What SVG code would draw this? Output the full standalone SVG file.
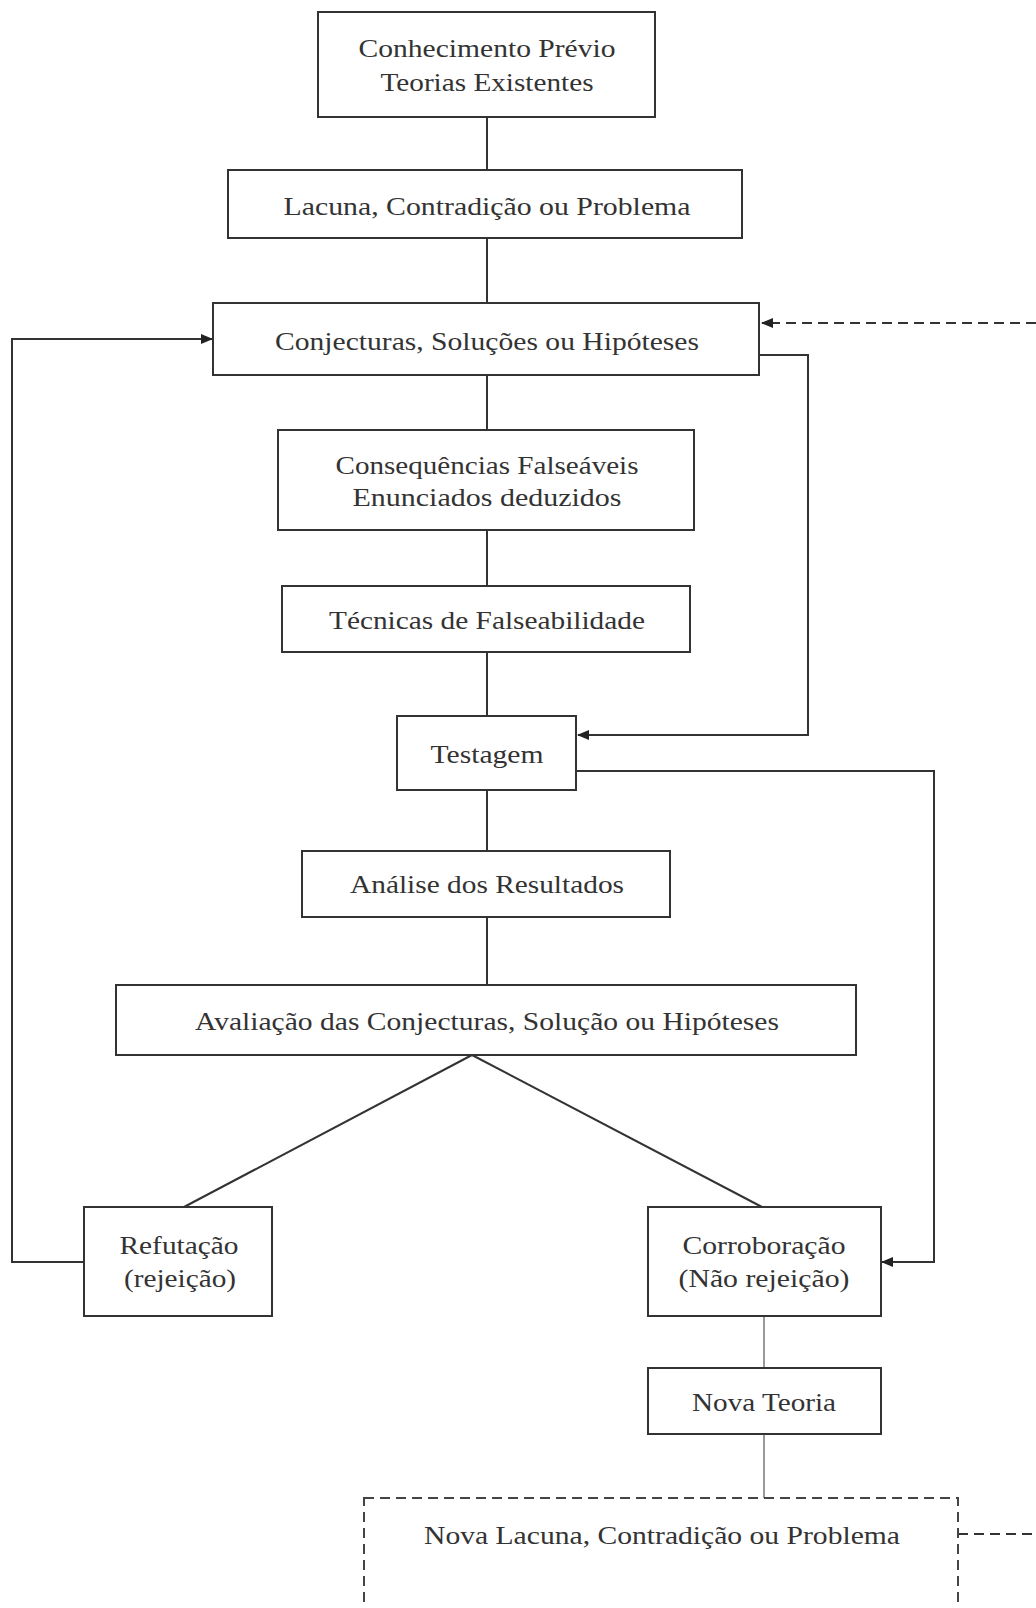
<svg xmlns="http://www.w3.org/2000/svg" width="1036" height="1608" viewBox="0 0 1036 1608">
<defs>
<marker id="ah" markerWidth="12" markerHeight="10" refX="11" refY="5" orient="auto" markerUnits="userSpaceOnUse">
<path d="M0,0 L12,5 L0,10 Z" fill="#222"/>
</marker>
<style>
.box{fill:#fff;stroke:#333;stroke-width:2}
.dbox{fill:#fff;stroke:#444;stroke-width:2;stroke-dasharray:10,6}
.t{font-family:"Liberation Serif","DejaVu Serif",serif;font-size:26px;fill:#333;text-anchor:middle}
.c{fill:none;stroke:#333;stroke-width:2}
.g{fill:none;stroke:#999;stroke-width:2}
.d{fill:none;stroke:#333;stroke-width:2;stroke-dasharray:10,6}
</style>
</defs>
<rect width="1036" height="1608" fill="#fff"/>
<g id="connectors">
<line class="c" x1="487" y1="117" x2="487" y2="170"/>
<line class="c" x1="487" y1="238" x2="487" y2="303"/>
<line class="c" x1="487" y1="375" x2="487" y2="430"/>
<line class="c" x1="487" y1="530" x2="487" y2="586"/>
<line class="c" x1="487" y1="652" x2="487" y2="716"/>
<line class="c" x1="487" y1="790" x2="487" y2="851"/>
<line class="c" x1="487" y1="917" x2="487" y2="985"/>
<line class="c" x1="472" y1="1055" x2="184" y2="1207"/>
<line class="c" x1="472" y1="1055" x2="762" y2="1207"/>
<line class="g" x1="764" y1="1316" x2="764" y2="1368"/>
<line class="g" x1="764" y1="1434" x2="764" y2="1498"/>
<polyline class="c" points="759,355 808,355 808,735 578,735" marker-end="url(#ah)"/>
<polyline class="c" points="576,771 934,771 934,1262 882,1262" marker-end="url(#ah)"/>
<polyline class="c" points="84,1262 12,1262 12,339 212,339" marker-end="url(#ah)"/>
<line class="d" x1="1036" y1="323" x2="762" y2="323" marker-end="url(#ah)"/>
<line class="d" x1="958" y1="1534" x2="1036" y2="1534"/>
</g>
<g id="n1"><rect class="box" x="318" y="12" width="337" height="105"/>
<text class="t" x="487" y="57" textLength="257" lengthAdjust="spacingAndGlyphs">Conhecimento Prévio</text>
<text class="t" x="487" y="91" textLength="213" lengthAdjust="spacingAndGlyphs">Teorias Existentes</text></g>
<g id="n2"><rect class="box" x="228" y="170" width="514" height="68"/>
<text class="t" x="487" y="215" textLength="407" lengthAdjust="spacingAndGlyphs">Lacuna, Contradição ou Problema</text></g>
<g id="n3"><rect class="box" x="213" y="303" width="546" height="72"/>
<text class="t" x="487" y="350" textLength="424" lengthAdjust="spacingAndGlyphs">Conjecturas, Soluções ou Hipóteses</text></g>
<g id="n4"><rect class="box" x="278" y="430" width="416" height="100"/>
<text class="t" x="487" y="474" textLength="303" lengthAdjust="spacingAndGlyphs">Consequências Falseáveis</text>
<text class="t" x="487" y="506" textLength="269" lengthAdjust="spacingAndGlyphs">Enunciados deduzidos</text></g>
<g id="n5"><rect class="box" x="282" y="586" width="408" height="66"/>
<text class="t" x="487" y="629" textLength="316" lengthAdjust="spacingAndGlyphs">Técnicas de Falseabilidade</text></g>
<g id="n6"><rect class="box" x="397" y="716" width="179" height="74"/>
<text class="t" x="487" y="763" textLength="113" lengthAdjust="spacingAndGlyphs">Testagem</text></g>
<g id="n7"><rect class="box" x="302" y="851" width="368" height="66"/>
<text class="t" x="487" y="893" textLength="274" lengthAdjust="spacingAndGlyphs">Análise dos Resultados</text></g>
<g id="n8"><rect class="box" x="116" y="985" width="740" height="70"/>
<text class="t" x="487" y="1030" textLength="584" lengthAdjust="spacingAndGlyphs">Avaliação das Conjecturas, Solução ou Hipóteses</text></g>
<g id="n9"><rect class="box" x="84" y="1207" width="188" height="109"/>
<text class="t" x="179" y="1254" textLength="119" lengthAdjust="spacingAndGlyphs">Refutação</text>
<text class="t" x="180" y="1287" textLength="112" lengthAdjust="spacingAndGlyphs">(rejeição)</text></g>
<g id="n10"><rect class="box" x="648" y="1207" width="233" height="109"/>
<text class="t" x="764" y="1254" textLength="163" lengthAdjust="spacingAndGlyphs">Corroboração</text>
<text class="t" x="764" y="1287" textLength="171" lengthAdjust="spacingAndGlyphs">(Não rejeição)</text></g>
<g id="n11"><rect class="box" x="648" y="1368" width="233" height="66"/>
<text class="t" x="764" y="1411" textLength="144" lengthAdjust="spacingAndGlyphs">Nova Teoria</text></g>
<g id="n12"><rect class="dbox" x="364" y="1498" width="594" height="130"/>
<text class="t" x="662" y="1544" textLength="476" lengthAdjust="spacingAndGlyphs">Nova Lacuna, Contradição ou Problema</text></g>
</svg>
